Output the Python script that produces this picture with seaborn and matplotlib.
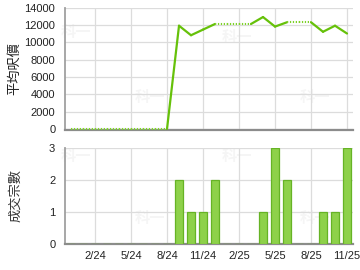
import numpy as np
import pandas as pd
import matplotlib
matplotlib.use("Agg")
import matplotlib.pyplot as plt
import seaborn as sns

sns.set_style("white")
plt.rcParams['font.family'] = ['Liberation Sans', 'Noto Sans CJK TC', 'DejaVu Sans']

months = ["12/23", "1/24", "2/24", "3/24", "4/24", "5/24", "6/24", "7/24", "8/24",
          "9/24", "10/24", "11/24", "12/24", "1/25", "2/25", "3/25", "4/25", "5/25",
          "6/25", "7/25", "8/25", "9/25", "10/25", "11/25"]
avg_price = [None, None, None, None, None, None, None, None, None,
             11900, 10800, 11450, 12100, None, None, None, 12900, 11800,
             12300, None, None, 11200, 11900, 11000]
deal_count = [0, 0, 0, 0, 0, 0, 0, 0, 0,
              2, 1, 1, 2, 0, 0, 0, 1, 3,
              2, 0, 0, 1, 1, 3]
tick_labels = ["2/24", "5/24", "8/24", "11/24", "2/25", "5/25", "8/25", "11/25"]
price_ticks = [0, 2000, 4000, 6000, 8000, 10000, 12000, 14000]
count_ticks = [0, 1, 2, 3]

LINE = "#66c10a"
DOT = "#7fd22a"
GRID = "#dcdcdc"
SPINE = "#a0a0a0"
TXT = "#222222"
CJK = ['Noto Sans CJK TC', 'DejaVu Sans']

fig = plt.figure(figsize=(3.6, 2.7), dpi=100)
ax1 = fig.add_axes([0.1806, 0.5185, 0.80, 0.4537])
ax2 = fig.add_axes([0.1806, 0.0974, 0.80, 0.3556])

tick_pos = [months.index(t) for t in tick_labels]

# carried-forward price
carried = []
last = 0
for v in avg_price:
    if v is not None:
        last = v
    carried.append(last)

for i in range(1, len(months)):
    seg = pd.DataFrame({"x": [i - 1, i], "y": [carried[i - 1], carried[i]]})
    if avg_price[i] is not None:
        sns.lineplot(data=seg, x="x", y="y", ax=ax1, color=LINE, linewidth=1.6,
                     solid_capstyle="round", solid_joinstyle="round",
                     clip_on=False, zorder=5)
    else:
        sns.lineplot(data=seg, x="x", y="y", ax=ax1, color=DOT, linewidth=1.5,
                     linestyle=(0, (0.6, 0.8)), dash_capstyle="butt",
                     clip_on=False, zorder=5)

ax1.set_xlim(-0.5, len(months) - 0.5)
ax1.set_ylim(-130, 14000)
ax1.set_yticks(price_ticks)
ax1.set_yticklabels([str(t) for t in price_ticks])
ax1.set_xticks(tick_pos)
ax1.set_xticklabels([])
ax1.set_xlabel("")
ax1.set_ylabel("平均呎價", family=CJK, fontsize=9.5, color=TXT)

df = pd.DataFrame({"month": months, "count": deal_count})
sns.barplot(data=df, x="month", y="count", ax=ax2, color="#8ed14a", width=0.68,
            edgecolor="#66b325", linewidth=0.9, saturation=1, zorder=3)
ax2.set_xlim(-0.5, len(months) - 0.5)
ax2.set_ylim(0, 3)
ax2.set_yticks(count_ticks)
ax2.set_yticklabels([str(t) for t in count_ticks])
ax2.set_xticks(tick_pos)
ax2.set_xticklabels(tick_labels)
ax2.set_xlabel("")
ax2.set_ylabel("成交宗數", family=CJK, fontsize=9.5, color="#333333")

for ax in (ax1, ax2):
    ax.grid(True, color=GRID, linewidth=0.9, zorder=0)
    ax.set_axisbelow(True)
    for s in ("top", "right"):
        ax.spines[s].set_visible(False)
    ax.spines["left"].set_color(SPINE)
    ax.spines["left"].set_linewidth(1.3)
    ax.spines["bottom"].set_color("#8c8c8c")
    ax.spines["bottom"].set_linewidth(1.6)
    ax.tick_params(length=0, labelsize=8, colors=TXT)
    ax.tick_params(axis="y", pad=7)
    ax.tick_params(axis="x", pad=5)

ax1.yaxis.set_label_coords(-0.153, 0.5)
ax2.yaxis.set_label_coords(-0.147, 0.5)

# faint watermarks (behind the data)
for ax, pts in [(ax1, [(76, 32), (150, 97), (237, 37), (315, 97)]),
                (ax2, [(76, 156), (150, 218), (237, 156), (315, 218)])]:
    for (x, y) in pts:
        ax.text(x / 360, 1 - y / 270, "科一", fontsize=11, fontweight="bold",
                color="#f5f5f5", ha="center", va="center", family=CJK,
                transform=fig.transFigure, zorder=0.1)

fig.savefig("out.png", dpi=100)
